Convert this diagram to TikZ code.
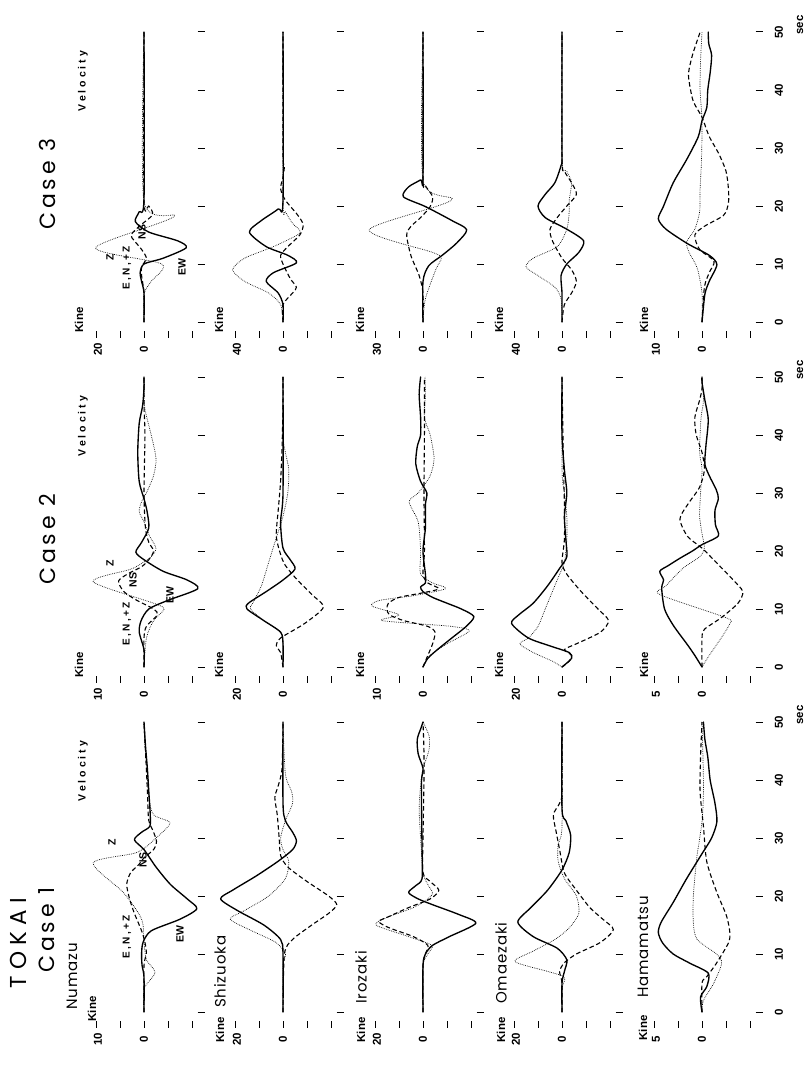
\documentclass[tikz,border=0pt]{standalone}
\usepackage{fontspec}
\setmainfont{Liberation Sans}
\newfontfamily\geo{Poppins}
\newcommand\panel[5]{% x0, t0, EW, NS, Z
 \begin{scope}[shift={(#1pt,-#2pt)},x={(0pt,5.8pt)},y={(-48pt,0pt)}]
  \draw[zz] plot[smooth,tension=0.45] coordinates {#5};
  \draw[ns] plot[smooth,tension=0.45] coordinates {#4};
  \draw[ew] plot[smooth,tension=0.45] coordinates {#3};
 \end{scope}}
\newcommand\axes[4]{% name, x0, t0, Lval
  \foreach \tt in {0,10,...,50}{\draw[tk] ({#2+53.5},{#3-5.8*\tt}) -- ({#2+60.5},{#3-5.8*\tt});}
  \foreach \aa in {-1,-0.5,0,0.5,1}{\draw[tk] ({#2-48*(\aa)},{#3+9}) -- ({#2-48*(\aa)},{#3+16});}
  \node[lbl] (#1v) at ({#2-46},{#3+27}) {#4};
  \node[lbl] (#1z) at ({#2},{#3+27}) {0};}
\newcommand\tlabels[2]{% name, t0
  \foreach \tt in {0,10,...,50}{\node[lbl] (#1t\tt) at (779,{#2-5.8*\tt}) {\tt};}
  \node[lbl] (#1sec) at (800,{#2-297}) {sec};}
\begin{document}
\begin{tikzpicture}[x=1pt,y=-1pt,
  ew/.style={line width=1.35pt,line join=round,line cap=round},
  ns/.style={line width=1.1pt,dash pattern=on 4.5pt off 2.8pt,line join=round},
  zz/.style={line width=0.7pt,dash pattern=on 0.7pt off 1.1pt},
  tk/.style={line width=1pt},
  lbl/.style={rotate=90,inner sep=0pt,font=\bfseries\fontsize{11.5}{13}\selectfont},
  sml/.style={rotate=90,inner sep=0pt,font=\bfseries\fontsize{10.5}{12}\selectfont},
  vel/.style={rotate=90,inner sep=0pt,font=\bfseries\fontsize{10.5}{12}\selectfont\addfontfeature{LetterSpace=28}},
  enz/.style={rotate=90,inner sep=0pt,font=\bfseries\fontsize{10}{12}\selectfont\addfontfeature{LetterSpace=22}},
  ttl/.style={rotate=90,inner sep=0pt,anchor=west,font=\geo\fontsize{22}{26}\selectfont\addfontfeature{LetterSpace=18}},
  stn/.style={rotate=90,inner sep=0pt,anchor=west,font=\geo\fontsize{15}{18}\selectfont\addfontfeature{LetterSpace=6}},
]
\useasboundingbox (0,0) rectangle (808,1065);
\fill[white] (0,0) rectangle (808,1065);

% ---------------- titles
\node[ttl,anchor=center,font=\geo\fontsize{23}{26}\selectfont\addfontfeature{LetterSpace=28}] (tokai) at (18,943) {TOKAI};
\node[ttl] (case1) at (47,973) {Case 1};
\node[ttl] (case2) at (48,585) {Case 2};
\node[ttl] (case3) at (47,230) {Case 3};

% ---------------- axes
\axes{an1}{144}{1012}{10} \axes{as1}{283}{1012}{20} \axes{ai1}{423}{1012}{20} \axes{ao1}{562}{1012}{20} \axes{ah1}{702}{1012}{5}
\axes{an2}{144}{667}{10}  \axes{as2}{283}{667}{20}  \axes{ai2}{423}{667}{10}  \axes{ao2}{562}{667}{20}  \axes{ah2}{702}{667}{5}
\axes{an3}{144}{322}{20}  \axes{as3}{283}{322}{40}  \axes{ai3}{423}{322}{30}  \axes{ao3}{562}{322}{40}  \axes{ah3}{702}{322}{10}
\tlabels{c1}{1012} \tlabels{c2}{667} \tlabels{c3}{322}

% ---------------- Kine labels and station names
\node[lbl] (kn1) at (92,1009) {Kine};
\node[lbl] (ks1) at (220,1030) {Kine};
\node[lbl] (ki1) at (361,1030) {Kine};
\node[lbl] (ko1) at (501,1030) {Kine};
\node[lbl] (kh1) at (643,1028) {Kine};
\node[stn] (numazu) at (72,1010) {Numazu};
\node[stn] (shizuoka) at (220,1008) {Shizuoka};
\node[stn] (irozaki) at (361,1004) {Irozaki};
\node[stn] (omaezaki) at (501,1004) {Omaezaki};
\node[stn] (hamamatsu) at (643,998) {Hamamatsu};
\foreach \k/\tz in {2/667,3/322}{
  \node[lbl] (kn\k) at (79,{\tz-2}) {Kine};
  \node[lbl] (ks\k) at (219,{\tz-2}) {Kine};
  \node[lbl] (ki\k) at (360,{\tz-2}) {Kine};
  \node[lbl] (ko\k) at (499,{\tz-2}) {Kine};
  \node[lbl] (kh\k) at (644,{\tz-2}) {Kine};
}

% ---------------- Numazu annotations
\foreach \k/\tz/\ey in {1/1012/937,2/667/624,3/322/268}{
  \node[vel] (vel\k) at (83,{\tz-241}) {Velocity};
  \node[enz] (enz\k) at (127,\ey) {E,N,+Z};
}
\node[sml] (z1) at (112,842) {Z}; \node[sml] (ns1) at (143,860) {NS}; \node[sml] (ew1) at (180,934) {EW};
\node[sml] (z2) at (110,563) {Z}; \node[sml] (ns2) at (133,580) {NS}; \node[sml] (ew2) at (170,595) {EW};
\node[sml] (z3) at (110,257) {Z}; \node[sml] (ns3) at (142,232) {NS}; \node[sml] (ew3) at (182,267) {EW};

% ================= CASE 1 =================
\panel{144}{1012}
{(0,0)(6,0)(8,0.04)(10,0.05)(12,0.02)(14,-0.15)(16,-0.75)(17.8,-1.1)(19.5,-0.9)(22,-0.55)(25,-0.25)(28,0)(29.7,0.2)(31,0.05)(32,-0.12)(34,-0.13)(38,-0.1)(42,-0.07)(46,-0.03)(50,0)}
{(0,0)(8,0)(10,-0.05)(12,-0.02)(14,0.05)(17,0.2)(19.5,0.3)(22,0.36)(24,0.28)(25.5,0.1)(26.6,0)(28,-0.2)(29.4,-0.26)(31,-0.2)(33,-0.1)(36,-0.08)(40,-0.06)(45,-0.03)(50,0)}
{(0,0)(4,0)(6.8,-0.23)(9,-0.05)(12,0)(16,0.05)(20.6,0.43)(25.7,1.06)(27.5,0.15)(30,-0.25)(32.6,-0.54)(34,-0.2)(37,-0.1)(42,-0.06)(46,-0.02)(50,0)}
\panel{283}{1012}
{(0,0)(10,0)(12.5,0.05)(15,0.4)(17.5,0.95)(19.5,1.3)(21,1.05)(23.5,0.55)(26,0.1)(28,-0.2)(29.5,-0.28)(31,-0.2)(33,-0.05)(36,0)(50,0)}
{(0,0)(10,-0.03)(12.5,-0.2)(15,-0.6)(17,-0.95)(18.5,-1.12)(20,-0.95)(22.5,-0.5)(25,-0.1)(27,0.05)(30,0.08)(34,0.12)(37,0.17)(39,0.1)(42,0.02)(50,0)}
{(0,0)(8,0)(10,-0.05)(12,0.15)(14,0.65)(16,1.1)(17.5,0.8)(20,0.3)(23,-0.05)(26,-0.12)(28,0)(30,0.05)(33,-0.05)(36,-0.2)(38,-0.18)(41,-0.05)(50,0)}
\panel{423}{1012}
{(0,0)(8,0)(10,-0.05)(11.5,-0.2)(13,-0.55)(15.3,-1.1)(16.8,-0.75)(18.5,-0.2)(19.5,0.1)(20.6,0.3)(21.8,0.15)(23,0.02)(28,0.02)(35,0.03)(40,0.03)(42,0)(44.5,0.1)(47,0.12)(49,0.04)(50,0)}
{(0,0)(8,0)(10,-0.05)(11.5,-0.1)(13,0.2)(14.5,0.7)(15.6,0.92)(16.5,0.7)(18,0.3)(19.5,-0.15)(21,-0.33)(22.5,-0.15)(24,0)(30,0)(40,-0.02)(45,-0.02)(50,0)}
{(0,0)(8,0)(10,-0.1)(11.5,-0.18)(13,0.3)(15,0.98)(16.3,0.75)(18,0.2)(19.5,-0.1)(20.5,-0.2)(22,-0.1)(24,0)(30,0.05)(35,0.08)(39,0.05)(42,0)(45,-0.12)(47.5,-0.13)(50,0)}
\panel{562}{1012}
{(0,0)(5,0)(7,-0.05)(9,-0.1)(11,0.1)(13,0.6)(15.5,0.92)(18,0.65)(21,0.3)(24.5,0)(27.5,-0.15)(30.5,-0.18)(33,-0.08)(35,0)(50,0)}
{(0,0)(5,0)(7,0.05)(8.5,-0.05)(10,-0.3)(12,-0.8)(14.2,-1.07)(16,-0.85)(18,-0.58)(21,-0.3)(24,-0.05)(28,0.05)(31,0.12)(34,0.18)(36,0.05)(38,0)(50,0)}
{(0,0)(4,0)(6,-0.05)(7,0.3)(8.7,0.98)(10.5,0.6)(12.5,0.15)(14.5,-0.15)(17,-0.35)(20,-0.3)(23,-0.05)(26,0.08)(29,0.08)(32,0)(50,0)}
\panel{702}{1012}
{(0,0)(2.6,0.03)(4.4,-0.1)(6.7,-0.13)(8.4,0.25)(10,0.6)(11.9,0.82)(13.7,0.91)(15.5,0.85)(18.9,0.6)(23,0.32)(27.3,0)(30,-0.2)(32.8,-0.31)(36,-0.27)(40,-0.17)(44,-0.12)(47,-0.06)(50,-0.03)}
{(0,0)(5,0)(6.1,-0.1)(8.4,-0.3)(11.9,-0.55)(13.7,-0.58)(16.6,-0.51)(20.6,-0.31)(25.9,-0.1)(32,-0.03)(38,0.04)(44,0.03)(50,0)}
{(0,0)(2,-0.03)(4.9,-0.24)(8.4,-0.41)(10,-0.3)(12.5,0.1)(15.4,0.18)(20,0.18)(26.5,0.11)(32.8,0)(38,-0.03)(44,-0.02)(50,0)}

% ================= CASE 2 =================
\panel{144}{667}
{(0,0)(3,0)(6,0.1)(8,0.06)(10,-0.1)(11.5,-0.5)(13.5,-1.12)(15,-0.9)(16.5,-0.4)(18.5,0)(19.8,0.17)(21.5,0.05)(24,-0.1)(27,-0.06)(29,0)(32,0.1)(37,0.13)(42,0.1)(45,0.03)(48,0)(50,0)}
{(0,0)(5,0)(7,-0.05)(9,-0.28)(10,-0.2)(11.5,0.15)(13,0.42)(14.8,0.53)(16,0.35)(17.3,0.05)(18.5,-0.1)(20,-0.2)(21.5,-0.1)(24,-0.03)(30,0)(40,-0.02)(45,0)(50,0)}
{(0,0)(5,-0.05)(8,-0.2)(10,-0.42)(11,-0.2)(14.7,1.06)(16.8,0.3)(17.6,0.1)(19,-0.15)(20.5,-0.25)(22.5,-0.12)(25,0)(26.8,0.1)(28.5,0.05)(30,-0.05)(33,-0.2)(36,-0.25)(40,-0.15)(44,-0.03)(46,0)(50,0)}
\panel{283}{667}
{(0,0)(4,0)(6,0.05)(8,0.4)(10,0.75)(11,0.72)(13,0.35)(15,0)(16.9,-0.25)(18.5,-0.15)(20.5,0)(25,0.05)(30,0)(50,0)}
{(0,0)(2.5,0.05)(3.7,0.14)(5,0.05)(7.5,-0.45)(10.3,-0.84)(12.5,-0.6)(15,-0.3)(17.5,-0.05)(19.4,0.05)(22.6,0.14)(27,0.1)(32,0.05)(38,0.02)(45,0)(50,0)}
{(0,0)(4,0)(6,0.05)(8,0.4)(10,0.68)(11,0.63)(14,0.45)(18,0.3)(22,0.15)(26,0)(30,-0.1)(34,-0.12)(37,-0.05)(40,0)(50,0)}
\panel{423}{667}
{(0,0)(1.5,-0.1)(3,-0.3)(5,-0.6)(7,-0.9)(8.7,-1.06)(10,-0.8)(11,-0.5)(12,-0.2)(13,0)(13.8,0.05)(14.5,-0.05)(16,-0.05)(20,0)(24,-0.05)(28,-0.05)(30,-0.08)(32,0.05)(35,0.15)(38,0.12)(40,0.05)(43,0.05)(47,0.08)(50,0.05)}
{(0,0)(2,-0.1)(4,-0.2)(6,-0.25)(7,-0.1)(8,0.4)(9,0.7)(10,0.75)(11,0.72)(12,0.5)(12.8,0)(13.5,-0.33)(14.5,-0.1)(16,0)(20,-0.03)(30,-0.02)(40,-0.03)(50,-0.03)}
{(0,0)(2,-0.15)(4,-0.5)(6.2,-0.96)(7,-0.6)(8,0.85)(9,0.5)(10.5,1.06)(11.5,0.9)(12.3,0.2)(13.5,-0.47)(14.5,-0.2)(16,0.05)(20,0.05)(25,0.1)(28.5,0.29)(30,0.1)(33,-0.15)(36,-0.23)(40,-0.15)(43,-0.03)(47,-0.05)(50,-0.04)}
\panel{562}{667}
{(0,0)(1.5,-0.2)(2.5,-0.15)(3.5,0.2)(5,0.7)(7.5,1.05)(9,0.9)(11,0.6)(14,0.3)(17,0.05)(19,-0.1)(22,-0.08)(26,-0.05)(30,-0.1)(34,-0.05)(40,0)(50,0)}
{(0,0)(1,-0.15)(2,-0.2)(3,-0.05)(4,-0.3)(6,-0.8)(8,-0.97)(10,-0.75)(13,-0.4)(16,-0.1)(18,0)(22,-0.05)(28,-0.05)(35,-0.03)(50,0)}
{(0,0)(1,0.2)(2.5,0.6)(4,0.88)(5,0.7)(7,0.5)(10,0.35)(13,0.2)(16,0.05)(18,-0.05)(22,-0.1)(26,-0.1)(30,-0.05)(34,0)(50,0)}
\panel{702}{667}
{(0,0)(2,0.15)(3.8,0.3)(7.2,0.6)(10,0.78)(13.6,0.84)(15,0.8)(16.5,0.88)(17.5,0.7)(18.8,0.45)(20,0.2)(21.1,0)(22.6,-0.34)(24.5,-0.28)(27,-0.27)(29,-0.34)(30.5,-0.3)(33,-0.15)(35,-0.06)(38,-0.08)(42.6,-0.13)(46,-0.06)(49,0)(50,0)}
{(0,0)(5,0)(6.5,-0.05)(8.5,-0.4)(11,-0.75)(13,-0.85)(15,-0.65)(18,-0.3)(20.5,0)(22.5,0.3)(25.5,0.46)(28,0.3)(31,0.05)(34,-0.05)(37,0)(40,0.12)(43,0.15)(46,0.05)(48,0)(50,0)}
{(0,0)(2,-0.15)(5,-0.4)(7.5,-0.58)(8.5,-0.5)(12.5,0.88)(14,0.75)(17,0.4)(19,0.05)(20.5,-0.05)(23,0)(26,0.05)(30,0.03)(34,0)(37,0.05)(40,0.04)(43,0.02)(46,-0.03)(50,0)}

% ================= CASE 3 =================
\panel{144}{322}
{(0,0)(5,0)(7,0.05)(8.5,0.08)(10,0)(11,-0.4)(12.8,-0.88)(14,-0.7)(15.5,-0.1)(17.3,0.18)(19,0.1)(21.3,0)(50,0)}
{(0,0)(5,0)(8,0.05)(9.5,0.05)(11,-0.05)(12.5,0.05)(14,0.2)(15,0.27)(16.5,0.1)(18.5,-0.18)(20,-0.1)(21,0)(50,0)}
{(0,0)(4.8,0)(7,-0.15)(10,-0.37)(12.8,1.01)(18.2,-0.63)(20.7,0)(50,0)}
\panel{283}{322}
{(0,0)(3,0)(5,0.1)(7,0.35)(8.5,0.2)(10.2,-0.28)(11.5,-0.1)(13,0.35)(15.5,0.7)(17.5,0.45)(19.5,0.1)(21,0)(50,0)}
{(0,0)(3,0)(5,-0.2)(6,-0.28)(7.5,-0.15)(10,0)(11.5,0.05)(13,-0.1)(15,-0.35)(16.8,-0.42)(18.5,-0.3)(21,-0.05)(23,0.05)(25,0)(27,-0.03)(29,0)(50,0)}
{(0,0)(3,0.05)(5,0.3)(7,0.8)(9,1.05)(11,0.8)(13,0.2)(15,-0.3)(15.8,-0.35)(17,-0.2)(19,-0.05)(20.5,0)(50,0)}
\panel{423}{322}
{(0,0)(7,0)(9.7,-0.12)(11.5,-0.4)(13.6,-0.7)(15.9,-0.91)(17.5,-0.6)(19.9,-0.05)(21.6,0.41)(23.3,0.3)(24.5,0.05)(25,0)(50,0)}
{(0,0)(5,0)(8,0.08)(11.4,0.25)(15,0.34)(16.5,0.25)(18,0.05)(19.9,-0.15)(21.6,-0.2)(23.5,-0.05)(25,0)(50,0)}
{(0,0)(4,-0.05)(9.1,-0.27)(11,-0.38)(12,-0.2)(15.9,1.12)(21,-0.59)(24.4,0)(50,0)}
\panel{562}{322}
{(0,0)(5,0)(8,0.02)(10,-0.1)(12,-0.35)(14,-0.45)(16,-0.1)(18,0.35)(20,0.5)(22,0.35)(24,0.15)(27,0.02)(29,0)(50,0)}
{(0,0)(3,-0.05)(5,-0.2)(7,-0.3)(9,-0.2)(11,0)(14,0.2)(16,0.25)(18,0.1)(20,-0.1)(22,-0.3)(24,-0.2)(26,-0.05)(28,0)(50,0)}
{(0,0)(4,0.02)(6,0.15)(8,0.5)(9.5,0.75)(11,0.6)(13,0.1)(16,-0.1)(19,-0.15)(21,-0.15)(24,-0.2)(26,-0.1)(28,0)(50,0)}
\panel{702}{322}
{(0,0)(4.8,-0.06)(7,-0.15)(9.9,-0.31)(11.5,-0.15)(13.5,0.3)(16,0.75)(17.8,0.91)(20,0.8)(24,0.6)(28,0.32)(31.9,0.08)(34.7,0)(37,-0.1)(40,-0.12)(43,-0.17)(46,-0.2)(48,-0.14)(50,-0.13)}
{(0,0)(6,-0.05)(8.5,-0.15)(10.5,-0.25)(12.5,0.05)(15,0.15)(16.5,-0.05)(18.4,-0.45)(20.5,-0.55)(23,-0.55)(26,-0.5)(29,-0.35)(32,-0.15)(35.3,0)(38,0.18)(41,0.26)(43,0.28)(46,0.2)(49,0.08)(50,0.04)}
{(0,0)(5,0)(9.3,0.1)(12,0.27)(13.8,0.32)(16,0.15)(19,0.05)(22.9,0.04)(28,0.01)(34.7,0)(40,0.04)(45,0.03)(50,0)}
\end{tikzpicture}
\end{document}
